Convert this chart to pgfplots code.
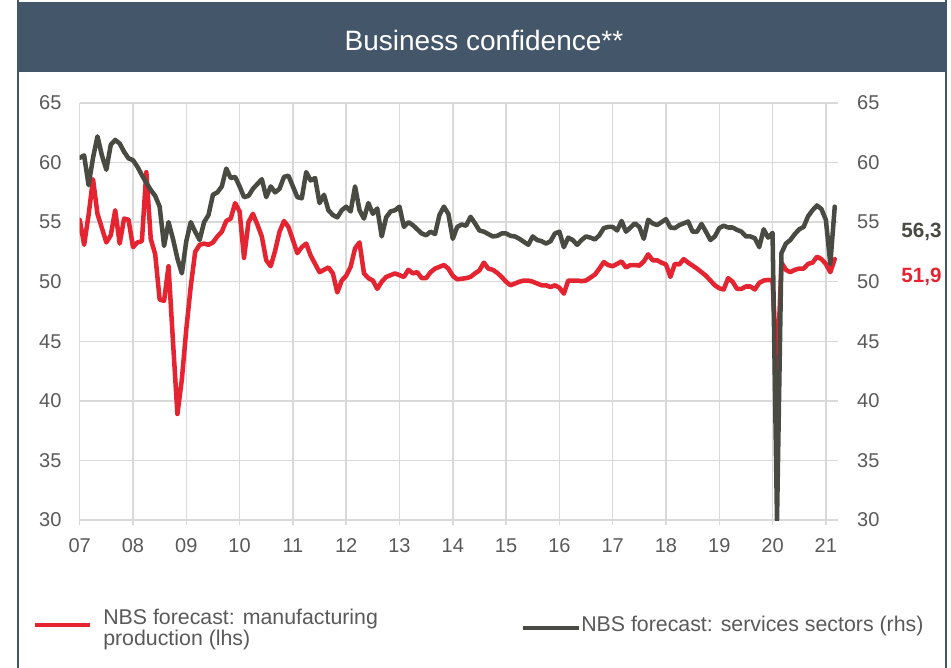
\documentclass[border=0pt]{standalone}
\usepackage{fontspec}
\setmainfont{Liberation Sans}
\usepackage{pgfplots}
\usepackage{pgfplotstable}
\pgfplotsset{compat=1.18}

\definecolor{barblue}{HTML}{44566A}
\definecolor{nbsred}{HTML}{E42531}
\definecolor{nbsdark}{HTML}{494B43}
\definecolor{gridgray}{HTML}{D9D9D9}
\definecolor{labgray}{HTML}{595959}

% month index (0 = Jan 2007), manufacturing (lhs), services (rhs)
\pgfplotstableread{
m mfg srv
0 55.2 60.4
1 53.1 60.6
2 55.6 58.1
3 58.6 60.4
4 55.7 62.2
5 54.5 60.6
6 53.3 59.4
7 53.9 61.5
8 56.0 61.9
9 53.2 61.6
10 55.3 60.9
11 55.2 60.35
12 52.9 60.2
13 53.3 59.65
14 53.4 58.95
15 59.2 58.3
16 53.6 57.7
17 52.3 57.2
18 48.5 56.3
19 48.4 53.0
20 51.3 55.0
21 45.0 53.6
22 38.9 51.95
23 41.8 50.7
24 46.0 53.4
25 49.6 55.0
26 52.5 54.2
27 53.1 53.5
28 53.2 55.0
29 53.1 55.6
30 53.3 57.3
31 53.8 57.5
32 54.2 58.0
33 55.1 59.5
34 55.3 58.7
35 56.6 58.8
36 55.9 58.0
37 52.0 57.1
38 55.0 57.2
39 55.7 57.8
40 54.8 58.2
41 53.8 58.6
42 51.8 57.1
43 51.3 58.0
44 52.6 57.5
45 54.2 57.8
46 55.1 58.8
47 54.6 58.9
48 53.5 58.0
49 52.4 57.1
50 52.9 57.0
51 53.2 59.2
52 52.2 58.5
53 51.5 58.7
54 50.8 56.6
55 51.0 57.3
56 51.2 56.0
57 50.7 55.6
58 49.1 55.4
59 50.1 56.0
60 50.5 56.3
61 51.25 55.9
62 52.8 58.0
63 53.3 56.0
64 50.7 55.3
65 50.3 56.6
66 50.1 55.7
67 49.4 56.15
68 50.0 53.8
69 50.4 55.4
70 50.55 55.9
71 50.7 56.0
72 50.55 56.3
73 50.4 54.6
74 51.0 55.0
75 50.7 54.75
76 50.8 54.4
77 50.3 54.05
78 50.3 53.9
79 50.8 54.2
80 51.1 54.0
81 51.25 55.6
82 51.4 56.3
83 51.1 55.7
84 50.5 53.6
85 50.2 54.6
86 50.25 54.8
87 50.3 54.7
88 50.4 55.45
89 50.7 54.9
90 50.95 54.3
91 51.6 54.2
92 51.1 54.0
93 51.0 53.8
94 50.75 53.85
95 50.4 54.05
96 50.0 54.05
97 49.7 53.85
98 49.85 53.8
99 50.0 53.6
100 50.1 53.35
101 50.1 53.1
102 50.0 53.8
103 49.85 53.5
104 49.7 53.4
105 49.7 53.2
106 49.55 53.4
107 49.7 54.05
108 49.5 54.2
109 49.0 52.9
110 50.1 53.7
111 50.1 53.5
112 50.1 53.1
113 50.05 53.5
114 50.1 53.8
115 50.35 53.7
116 50.6 53.55
117 51.1 53.9
118 51.65 54.5
119 51.4 54.6
120 51.3 54.6
121 51.5 54.3
122 51.7 55.1
123 51.2 54.2
124 51.4 54.55
125 51.4 54.9
126 51.35 54.6
127 51.7 53.6
128 52.3 55.2
129 51.8 54.9
130 51.8 54.75
131 51.6 55.0
132 51.45 55.25
133 50.4 54.55
134 51.5 54.5
135 51.45 54.75
136 51.9 54.9
137 51.6 55.05
138 51.35 54.2
139 51.1 54.2
140 50.8 54.85
141 50.5 54.2
142 50.1 53.5
143 49.7 53.8
144 49.45 54.5
145 49.35 54.7
146 50.3 54.55
147 50.0 54.55
148 49.4 54.35
149 49.4 54.2
150 49.6 53.8
151 49.6 53.8
152 49.35 53.65
153 49.9 52.9
154 50.1 54.4
155 50.15 53.7
156 50.1 54.1
157 42.0 30.0
158 51.6 52.4
159 51.0 53.2
160 50.8 53.5
161 51.0 54.0
162 51.1 54.4
163 51.1 54.6
164 51.5 55.5
165 51.6 56.0
166 52.1 56.4
167 51.9 56.1
168 51.5 55.2
169 50.8 51.5
170 51.9 56.3
}\conf

\pgfplotsset{bc/.style={
  scale only axis, width=568.95pt, height=312.75pt,
  at={(59.775pt,-390pt)}, anchor=south west,
  xmin=0, xmax=170.8, ymin=30, ymax=65,
  ytick={30,35,...,65},
  axis line style={draw=none},
  tick label style={font=\fontsize{15}{18}\selectfont, color=labgray, inner sep=0pt},
  /pgf/number format/assume math mode=true,
}}

\begin{document}
\begin{tikzpicture}
\useasboundingbox (0,0) rectangle (713.25pt,-501pt);
\fill[barblue] (13.5pt,-1.5pt) rectangle (709.5pt,-54pt);
\draw[barblue, line width=1.1pt] (13.5pt,0) -- (13.5pt,-501pt) (709.5pt,0) -- (709.5pt,-501pt);
\node[white, anchor=base, font=\fontsize{21}{25}\selectfont] at (363pt,-37.5pt) {Business confidence**};

\begin{axis}[bc,
  xtick={0,12,...,168},
  xticklabels={07,08,09,10,11,12,13,14,15,16,17,18,19,20,21},
  xmajorgrids, ymajorgrids,
  grid style={gridgray, line width=1.1pt},
  tick align=outside, major tick length=3.75pt,
  xtick style={gridgray, line width=1.1pt},
  ytick style={draw=none},
  xtick pos=left, ytick pos=left,
  yticklabel style={anchor=east, xshift=-9.75pt},
  xticklabel style={anchor=north, yshift=-9.75pt},
]
\addplot[nbsred, line width=3.4pt, line join=round, line cap=round] table[x=m, y=mfg]{\conf};
\end{axis}

\begin{axis}[bc,
  xtick=\empty,
  tick align=inside,
  ytick style={draw=none},
  ytick pos=right, yticklabel pos=right,
  yticklabel style={anchor=west, xshift=14pt},
]
\addplot[nbsdark, line width=3.4pt, line join=round, line cap=round] table[x=m, y=srv]{\conf};
\end{axis}

\node[anchor=base west, font=\bfseries\fontsize{15.5}{18}\selectfont, text=nbsdark] at (672.5pt,-177.75pt) {56,3};
\node[anchor=base west, font=\bfseries\fontsize{15.5}{18}\selectfont, text=nbsred] at (672.5pt,-211.5pt) {51,9};

\draw[nbsred, line width=3.4pt] (26.25pt,-468.75pt) -- (67.5pt,-468.75pt);
\node[anchor=base west, font=\fontsize{16}{19}\selectfont, text=labgray, inner sep=0pt] at (77.25pt,-468pt) {NBS forecast: manufacturing};
\node[anchor=base west, font=\fontsize{16}{19}\selectfont, text=labgray, inner sep=0pt] at (77.25pt,-483.75pt) {production (lhs)};
\draw[nbsdark, line width=3.4pt] (392.25pt,-471pt) -- (434.25pt,-471pt);
\node[anchor=base west, font=\fontsize{16}{19}\selectfont, text=labgray, inner sep=0pt] at (435.75pt,-473.25pt) {NBS forecast: services sectors (rhs)};
\end{tikzpicture}
\end{document}
